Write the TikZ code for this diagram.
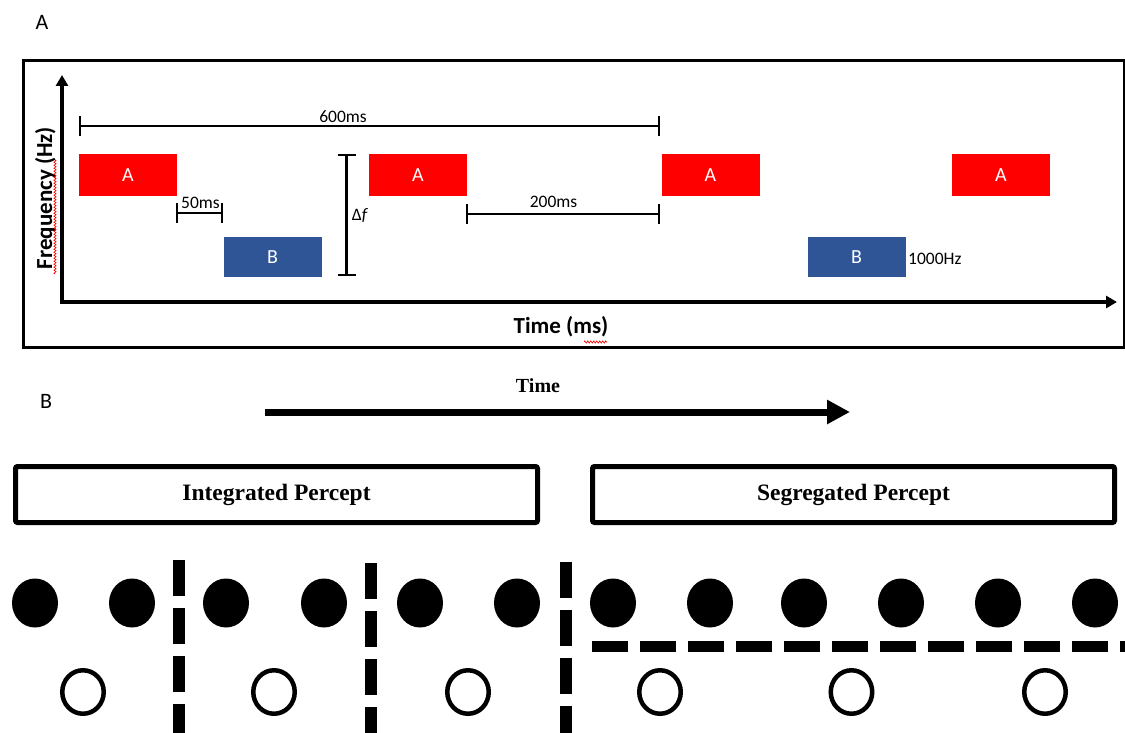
\documentclass[tikz,border=0pt]{standalone}
\usepackage{fontspec}
\setmainfont{Carlito}
\newfontfamily\timesbold[BoldFont={Liberation Serif Bold}]{Liberation Serif}
\usetikzlibrary{arrows.meta,shapes.geometric,decorations.pathmorphing}

\definecolor{toneRed}{HTML}{FF0000}
\definecolor{toneBlue}{HTML}{2F5597}

\begin{document}
\begin{tikzpicture}[x=1pt,y=-1pt,
  panelLbl/.style={font=\fontsize{22}{26}\selectfont, inner sep=0pt},
  highTone/.style={fill=toneRed, minimum width=98pt, minimum height=42pt, inner sep=0pt,
    text=white, font=\fontsize{20}{23}\selectfont},
  lowTone/.style={highTone, fill=toneBlue, minimum height=40pt},
  lbl/.style={font=\fontsize{17.5}{20}\selectfont, inner sep=0pt},
  axisLbl/.style={font=\bfseries\fontsize{23}{26}\selectfont, inner sep=0pt},
  span/.style={line width=2.2pt, {Bar[width=20pt]}-{Bar[width=20pt]}},
  axis/.style={line width=3.6pt, -{Triangle[length=11pt,width=12pt]}},
  spell/.style={toneRed, line width=0.6pt, decorate,
    decoration={zigzag, amplitude=1.1pt, segment length=3pt}},
  percept/.style={draw, line width=5pt, rounded corners=2pt, minimum width=522pt,
    minimum height=56pt, inner sep=0pt,
    font=\timesbold\bfseries\fontsize{23.5}{27}\selectfont},
  dotFull/.style={ellipse, fill=black, minimum width=46pt, minimum height=49pt, inner sep=0pt},
  dotOpen/.style={ellipse, draw=black, line width=4.5pt, minimum width=41.5pt,
    minimum height=43.5pt, inner sep=0pt},
  sepDash/.style={line width=12pt, dash pattern=on 36pt off 12pt},
  timeArrow/.style={line width=7pt, -{Triangle[length=23pt,width=23pt]}}
]
\useasboundingbox (0,0) rectangle (1125,733);

% ---------------- Panel A: tone sequence ----------------
\node[panelLbl] (pA) at (42,22) {A};
\draw[line width=2.4pt] (23.5,60.5) rectangle (1124.5,347.5);

\coordinate (origin) at (62,302);
\coordinate (yfoot) at (62,303.8);
\coordinate (ytip) at (62,75);
\coordinate (xtip) at (1117,302);
\draw[axis] (yfoot) -- (ytip);
\draw[axis] (origin) -- (xtip);

\node[axisLbl, rotate=90] (ylab) at (45.5,198) {Frequency (Hz)};
\node[axisLbl] (xlab) at (561,327) {Time (ms)};
\coordinate (sq1a) at (55,274);
\coordinate (sq1b) at (55,160);
\draw[spell] (sq1a) -- (sq1b);
\coordinate (sq2a) at (584,342);
\coordinate (sq2b) at (607,342);
\draw[spell] (sq2a) -- (sq2b);

\node[highTone] (a1) at (128,175) {A};
\node[highTone] (a2) at (418,175) {A};
\node[highTone] (a3) at (710.5,175) {A};
\node[highTone] (a4) at (1001,175) {A};
\node[lowTone] (b1) at (272.5,257) {B};
\node[lowTone] (b2) at (856.5,257) {B};
\node[lbl, anchor=west] (hz) at (908,259) {1000Hz};

% 600 ms period
\coordinate (p600a) at (79,126);
\coordinate (p600b) at (660,126);
\draw[span] (p600a) -- (p600b);
\node[lbl] (l600) at (343,117) {600ms};

% 50 ms gap
\coordinate (p50a) at (176,213);
\coordinate (p50b) at (223,213);
\draw[span] (p50a) -- (p50b);
\node[lbl] (l50) at (200.5,203) {50ms};

% 200 ms gap
\coordinate (p200a) at (466,214);
\coordinate (p200b) at (660,214);
\draw[span] (p200a) -- (p200b);
\node[lbl] (l200) at (553.5,202) {200ms};

% frequency separation
\coordinate (dfa) at (346.5,154);
\coordinate (dfb) at (346.5,276);
\draw[span, {Bar[width=18pt]}-{Bar[width=18pt]}] (dfa) -- (dfb);
\node[lbl] (ldf) at (360,216) {Δ\textit{f}};

% ---------------- Panel B: percepts ----------------
\node[panelLbl] (pB) at (46,401) {B};
\node[font=\timesbold\bfseries\fontsize{20}{24}\selectfont, inner sep=0pt] (tlab) at (538,386) {Time};
\coordinate (tstart) at (265,412);
\coordinate (tend) at (850,412);
\draw[timeArrow] (tstart) -- (tend);

\node[percept] (integ) at (276.5,494.5) {Integrated Percept};
\node[percept] (segr) at (853.5,494.5) {Segregated Percept};

\foreach \x [count=\i] in {35,132,226,324,420,517,613,710,804,901,998,1095}
  \node[dotFull] (f\i) at (\x,603) {};
\foreach \x [count=\i] in {83,274,468,660,851.5,1045}
  \node[dotOpen] (o\i) at (\x,692) {};

\coordinate (s1t) at (179,560);
\coordinate (s1b) at (179,745);
\coordinate (s2t) at (370.5,563);
\coordinate (s2b) at (370.5,745);
\coordinate (s3t) at (566,562);
\coordinate (s3b) at (566,745);
\draw[sepDash] (s1t) -- (s1b);
\draw[sepDash] (s2t) -- (s2b);
\draw[sepDash] (s3t) -- (s3b);

\coordinate (hl) at (592,646.5);
\coordinate (hr) at (1140,646.5);
\draw[sepDash, line width=11pt] (hl) -- (hr);
\end{tikzpicture}
\end{document}
